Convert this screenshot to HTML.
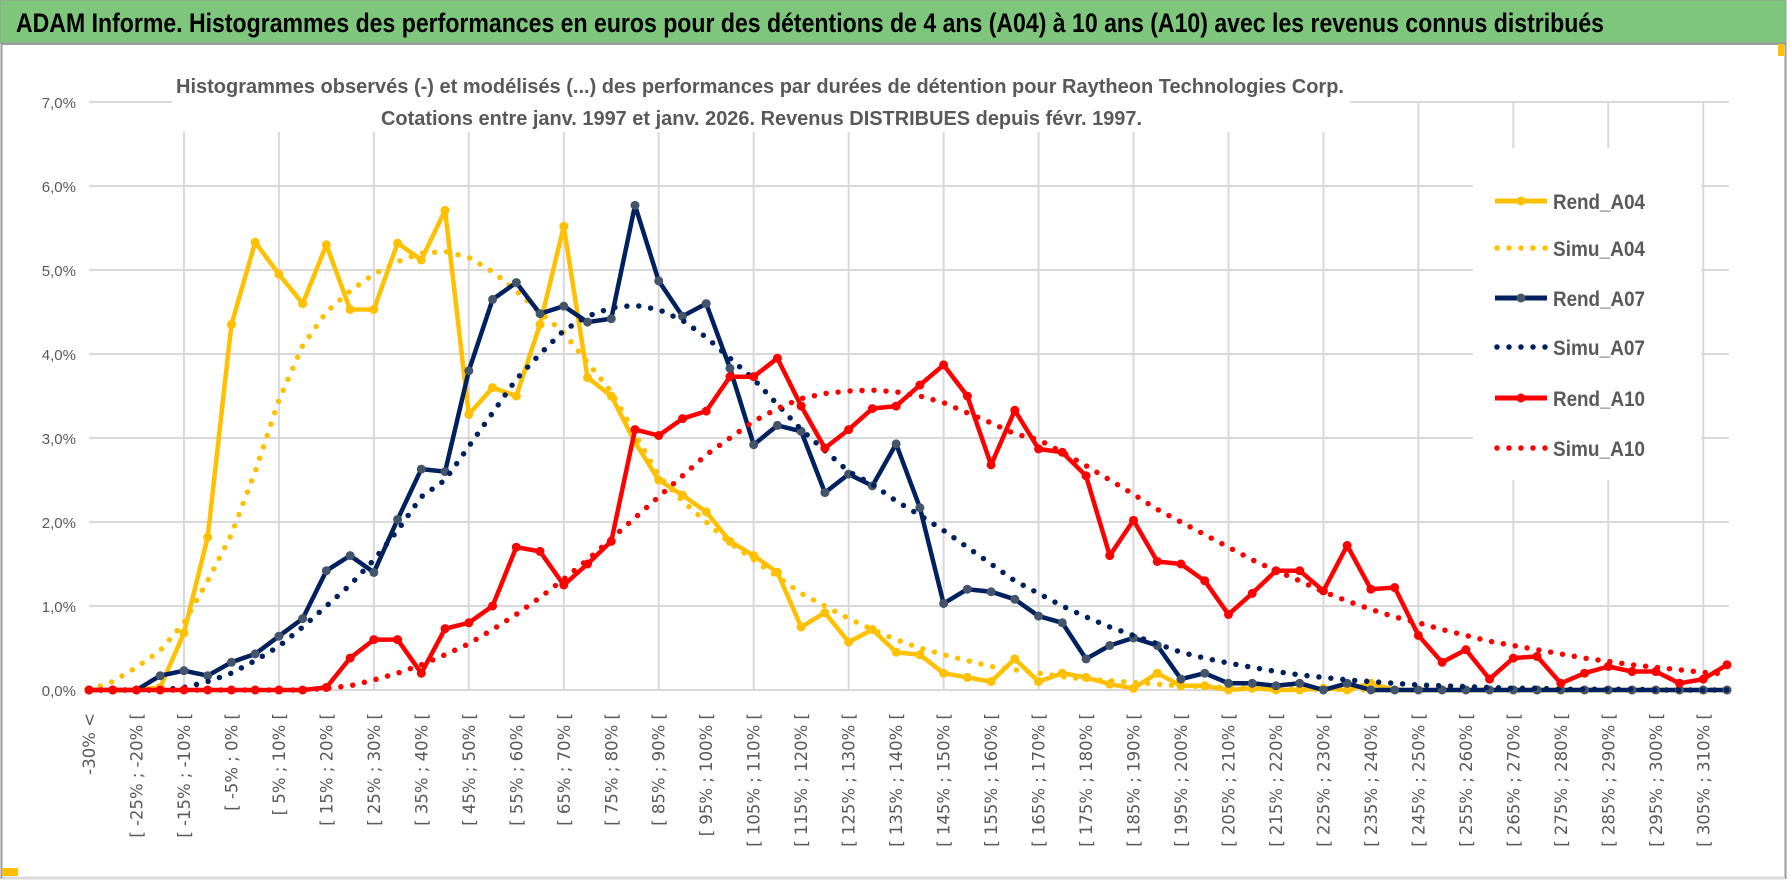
<!DOCTYPE html>
<html><head><meta charset="utf-8"><style>
html,body{margin:0;padding:0;background:#fff;}
svg{display:block;}
</style></head><body>
<svg id="chart" width="1790" height="888" viewBox="0 0 1790 888" xmlns="http://www.w3.org/2000/svg">
<rect x="0" y="0" width="1790" height="888" fill="#fff"/>
<rect x="1.5" y="44" width="1784" height="834" fill="#fff" stroke="#9a9a9a" stroke-width="2"/>
<line x1="2" y1="878" x2="1785" y2="878" stroke="#d9d9d9" stroke-width="3"/>
<rect x="0" y="0" width="1786" height="43" fill="#7dc67b" stroke="#9a9a9a" stroke-width="1"/>
<rect x="1778" y="44" width="6" height="12" fill="#ffc000"/>
<rect x="2" y="868" width="16" height="8" fill="#ffc000"/>
<text x="16" y="32" font-family="Liberation Sans, sans-serif" font-weight="bold" font-size="27" fill="#000" textLength="1588" lengthAdjust="spacingAndGlyphs">ADAM Informe. Histogrammes des performances en euros pour des détentions de 4 ans (A04) à 10 ans (A10) avec les revenus connus distribués</text>
<g id="grid"></g>
<rect x="172" y="62" width="1178" height="70" fill="#fff"/>
<text x="176" y="93" font-family="Liberation Sans, sans-serif" font-weight="bold" font-size="20" fill="#595959" textLength="1168" lengthAdjust="spacingAndGlyphs">Histogrammes observés (-) et modélisés (...) des performances par durées de détention pour Raytheon Technologies Corp.</text>
<text x="381" y="125" font-family="Liberation Sans, sans-serif" font-weight="bold" font-size="20" fill="#595959" textLength="761" lengthAdjust="spacingAndGlyphs">Cotations entre janv. 1997 et janv. 2026. Revenus DISTRIBUES depuis févr. 1997.</text>
<g id="yaxis"></g>
<g id="xaxis"></g>
<g id="series"></g>
<g id="legend"></g>
</svg>
<script>
const yTicks = [0,1,2,3,4,5,6,7];
const yTickLabels = ["0,0%","1,0%","2,0%","3,0%","4,0%","5,0%","6,0%","7,0%"];
const rendA04 = [0,0,0,0.03,0.68,1.82,4.35,5.33,4.95,4.6,5.3,4.53,4.53,5.32,5.12,5.71,3.28,3.6,3.5,4.35,5.52,3.72,3.5,2.95,2.5,2.32,2.12,1.77,1.6,1.4,0.75,0.92,0.57,0.72,0.45,0.42,0.2,0.15,0.1,0.37,0.1,0.2,0.15,0.07,0.02,0.2,0.05,0.05,0,0.02,0,0,0.02,0,0.08,0,0,0,0,0,0,0,0,0,0,0,0,0,0,0];
const simuA04 = [0,0.1,0.27,0.47,0.8,1.3,1.85,2.6,3.45,4.1,4.5,4.75,4.95,5.1,5.2,5.22,5.15,4.98,4.75,4.5,4.25,3.9,3.55,3.05,2.55,2.25,2.0,1.75,1.55,1.35,1.15,1.0,0.85,0.72,0.6,0.5,0.42,0.35,0.28,0.24,0.2,0.16,0.13,0.11,0.09,0.07,0.05,0.04,0.03,0.02,0.02,0.01,0.01,0.01,0,0,0,0,0,0,0,0,0,0,0,0,0,0,0,0];
const rendA07 = [0,0,0,0.17,0.23,0.17,0.33,0.43,0.64,0.85,1.42,1.6,1.4,2.03,2.63,2.6,3.8,4.65,4.85,4.48,4.57,4.38,4.42,5.77,4.87,4.45,4.6,3.83,2.92,3.15,3.08,2.35,2.57,2.43,2.93,2.17,1.03,1.2,1.17,1.08,0.88,0.8,0.37,0.53,0.62,0.53,0.13,0.2,0.08,0.08,0.05,0.08,0,0.08,0,0,0,0,0,0,0,0,0,0,0,0,0,0,0,0];
const simuA07 = [0,0,0,0,0.03,0.1,0.2,0.35,0.52,0.75,1.0,1.25,1.55,1.9,2.3,2.5,2.9,3.3,3.7,4.0,4.28,4.45,4.55,4.58,4.53,4.4,4.2,3.95,3.7,3.4,3.1,2.85,2.6,2.45,2.25,2.08,1.9,1.7,1.5,1.3,1.15,1.0,0.87,0.75,0.65,0.55,0.45,0.38,0.32,0.27,0.22,0.18,0.15,0.12,0.1,0.08,0.06,0.05,0.04,0.03,0.02,0.02,0.01,0.01,0.01,0.01,0,0,0,0];
const rendA10 = [0,0,0,0,0,0,0,0,0,0,0.03,0.38,0.6,0.6,0.2,0.73,0.8,1.0,1.7,1.65,1.25,1.5,1.77,3.1,3.03,3.23,3.32,3.73,3.73,3.95,3.38,2.88,3.1,3.35,3.38,3.63,3.87,3.5,2.68,3.33,2.87,2.83,2.55,1.6,2.02,1.53,1.5,1.3,0.9,1.15,1.42,1.42,1.18,1.72,1.2,1.22,0.65,0.33,0.48,0.13,0.38,0.4,0.08,0.2,0.28,0.22,0.22,0.08,0.13,0.3];
const simuA10 = [0,0,0,0,0,0,0,0,0,0,0.02,0.05,0.12,0.2,0.3,0.42,0.55,0.72,0.9,1.1,1.32,1.55,1.8,2.05,2.3,2.55,2.8,3.0,3.2,3.35,3.47,3.53,3.56,3.57,3.55,3.5,3.42,3.3,3.18,3.05,2.98,2.83,2.67,2.5,2.33,2.15,2.0,1.85,1.7,1.55,1.42,1.3,1.17,1.06,0.96,0.87,0.8,0.72,0.65,0.58,0.53,0.48,0.43,0.38,0.34,0.3,0.27,0.24,0.21,0.19];
const seriesNames = ["Rend_A04","Simu_A04","Rend_A07","Simu_A07","Rend_A10","Simu_A10"];

const NS = "http://www.w3.org/2000/svg";
const N = 70, X0 = 89, X1 = 1727, Y0 = 690, PER = 84;
function xPos(i){ return X0 + i*(X1-X0)/(N-1); }
function yPos(v){ return Y0 - v*PER; }
function mk(tag, attrs, parent){ const e=document.createElementNS(NS,tag); for(const k in attrs) e.setAttribute(k,attrs[k]); parent.appendChild(e); return e; }
function catLabel(i){ if(i===0) return "-30% <"; const lo=-35+5*i; return "[ "+lo+"% ; "+(lo+5)+"% ["; }

const grid = document.getElementById('grid');
yTicks.forEach(t=>{
  const l = mk('line',{x1:X0,x2:X1+2,y1:yPos(t),y2:yPos(t),stroke:'#d9d9d9','stroke-width':2},grid);
  
  
});
for(let i=4;i<N;i+=4){
  const l = mk('line',{x1:xPos(i),x2:xPos(i),y1:yPos(7),y2:Y0,stroke:'#d9d9d9','stroke-width':2},grid);
  
  
}
const ya = document.getElementById('yaxis');
yTicks.forEach((t,k)=>{
  const tx = mk('text',{x:76,y:yPos(t)+6,'text-anchor':'end','font-family':'Liberation Sans, sans-serif','font-size':15,fill:'#595959'},ya);
  tx.textContent = yTickLabels[k];
  
  
});
const xa = document.getElementById('xaxis');
for(let i=0;i<N;i+=2){
  const x = xPos(i)+6;
  const tx = mk('text',{x:x,y:713,transform:'rotate(-90 '+x+' 713)','text-anchor':'end','font-family':'DejaVu Sans, sans-serif','font-size':16.5,fill:'#595959'},xa);
  tx.textContent = catLabel(i);
  
  
}
const sg = document.getElementById('series');
function pts(arr){ return arr.map((v,i)=>xPos(i).toFixed(1)+','+yPos(v).toFixed(1)).join(' '); }
function solid(arr,color,mcolor,name){
  const g = mk('g',{},sg);
  
  
  mk('polyline',{points:pts(arr),fill:'none',stroke:color,'stroke-width':4.5,'stroke-linejoin':'round'},g);
  arr.forEach((v,i)=>{
    const c = mk('circle',{cx:xPos(i),cy:yPos(v),r:4.5,fill:mcolor},g);
    
    
  });
}
function dotted(arr,color,name){
  const p = mk('polyline',{points:pts(arr),fill:'none',stroke:color,'stroke-width':5.5,'stroke-linecap':'round','stroke-dasharray':'0 12'},sg);
  
  
}
solid(rendA04,'#ffc000','#ffc000','series-rend-a04');
dotted(simuA04,'#ffc000','series-simu-a04');
solid(rendA07,'#002060','#44546a','series-rend-a07');
dotted(simuA07,'#002060','series-simu-a07');
solid(rendA10,'#ff0000','#ff0000','series-rend-a10');
dotted(simuA10,'#ff0000','series-simu-a10');

const lg = document.getElementById('legend');
const lb = mk('rect',{x:1473,y:148,width:228,height:332,fill:'#fff'},lg);


const lcol = ['#ffc000','#ffc000','#002060','#002060','#ff0000','#ff0000'];
const lmk = ['#ffc000',null,'#44546a',null,'#ff0000',null];
const ly = [201,248,298,347,398,448];
seriesNames.forEach((n,k)=>{
  const g = mk('g',{},lg);
  
  
  if(lmk[k]){
    mk('line',{x1:1495,x2:1547,y1:ly[k],y2:ly[k],stroke:lcol[k],'stroke-width':5},g);
    mk('circle',{cx:1521,cy:ly[k],r:4.5,fill:lmk[k]},g);
  } else {
    mk('line',{x1:1497,x2:1547,y1:ly[k],y2:ly[k],stroke:lcol[k],'stroke-width':5.5,'stroke-linecap':'round','stroke-dasharray':'0 12'},g);
  }
  const t = mk('text',{x:1553,y:ly[k]+8,'font-family':'Liberation Sans, sans-serif','font-weight':'bold','font-size':21,fill:'#595959',textLength:n.length*11.5,lengthAdjust:'spacingAndGlyphs'},g);
  t.textContent = n;
});
</script>
</body></html>
